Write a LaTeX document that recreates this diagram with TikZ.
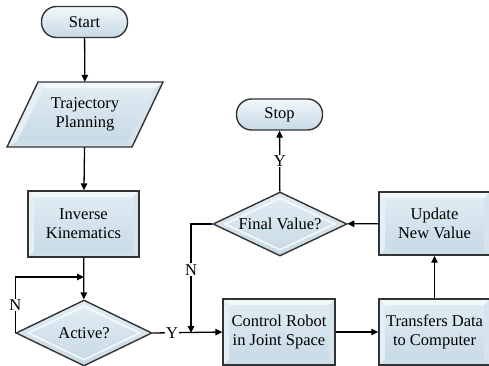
\documentclass[tikz,border=0pt]{standalone}
\usepackage{fontspec}
\setmainfont{Liberation Serif}
\usetikzlibrary{arrows.meta,shapes.geometric,calc}

\definecolor{edge}{HTML}{333333}
\definecolor{fillA}{HTML}{E2EDF4}
\definecolor{fillB}{HTML}{C6D9E6}
\definecolor{bvTop}{HTML}{F2F7FA}
\definecolor{bvLeft}{HTML}{E6EFF5}
\definecolor{bvRight}{HTML}{D6E4EE}
\definecolor{bvBottom}{HTML}{CEDFEA}

\tikzset{
  chartfont/.style={font=\fontsize{16.5}{19}\selectfont},
  % rectangular process box with a bevelled frame
  bevelbox/.style={rectangle, draw=edge, line width=1.4pt, chartfont,
    align=center, top color=fillA, bottom color=fillB, inner sep=0pt,
    path picture={
      \path (path picture bounding box.south west) coordinate (bvA)
            (path picture bounding box.north east) coordinate (bvB);
      \fill[bvTop] (bvA |- bvB) -- (bvB) -- ($(bvB)+(-6pt,-6pt)$) -- ($(bvA |- bvB)+(6pt,-6pt)$) -- cycle;
      \fill[bvRight] (bvB) -- (bvB |- bvA) -- ($(bvB |- bvA)+(-6pt,6pt)$) -- ($(bvB)+(-6pt,-6pt)$) -- cycle;
      \fill[bvBottom] (bvB |- bvA) -- (bvA) -- ($(bvA)+(6pt,6pt)$) -- ($(bvB |- bvA)+(-6pt,6pt)$) -- cycle;
      \fill[bvLeft] (bvA) -- (bvA |- bvB) -- ($(bvA |- bvB)+(6pt,-6pt)$) -- ($(bvA)+(6pt,6pt)$) -- cycle;
    }},
  % start / stop terminator
  terminal/.style={rectangle, rounded corners=15pt, draw=edge, line width=1.4pt,
    chartfont, top color=bvTop, bottom color=fillB, inner sep=0pt,
    minimum width=86pt, minimum height=31pt},
  % decision diamond
  decision/.style={diamond, draw=edge, line width=1.4pt, chartfont,
    top color=fillA, bottom color=fillB, inner sep=0pt, aspect=2,
    path picture={
      \path (path picture bounding box.south west) coordinate (dgA)
            (path picture bounding box.north east) coordinate (dgB);
      \draw[white, line width=1.6pt, opacity=0.8]
        ($(dgA |- dgB)!0.5!(dgB)+(0,-6pt)$) -- ($(dgB)!0.5!(dgB |- dgA)+(-12pt,0)$)
        -- ($(dgA)!0.5!(dgB |- dgA)+(0,6pt)$) -- ($(dgA)!0.5!(dgA |- dgB)+(12pt,0)$) -- cycle;
    }},
  conn/.style={draw=black, line width=1.3pt, -{Triangle[length=7pt,width=6.5pt]}},
  lbl/.style={fill=white, inner sep=1pt, chartfont}
}

\begin{document}
\begin{tikzpicture}[x=1pt, y=-1pt]
  \useasboundingbox (0,0) rectangle (489,365);
  \clip (0,0) rectangle (489,365);

  % ---- left column ----
  \node[terminal] (start) at (84.5,22) {Start};

  % parallelogram for the planning step
  \begin{scope}
    \path[top color=fillA, bottom color=fillB] (38,82) -- (163,82) -- (132,147) -- (7,147) -- cycle;
    \fill[bvTop] (38,82) -- (163,82) -- (155,88) -- (44,88) -- cycle;
    \fill[bvRight] (163,82) -- (132,147) -- (128,141) -- (155,88) -- cycle;
    \fill[bvBottom] (132,147) -- (7,147) -- (17,141) -- (128,141) -- cycle;
    \fill[bvLeft] (7,147) -- (38,82) -- (44,88) -- (17,141) -- cycle;
    \draw[edge, line width=1.4pt, line join=miter] (38,82) -- (163,82) -- (132,147) -- (7,147) -- cycle;
  \end{scope}
  \node[chartfont, align=center, minimum width=124pt, minimum height=65pt, inner sep=0pt]
    (traj) at (85,114.5) {Trajectory\\Planning};

  \node[bevelbox, minimum width=111pt, minimum height=66pt] (inv) at (83.5,224) {Inverse\\Kinematics};
  \node[decision, minimum width=136pt, minimum height=66pt] (active) at (84,333) {Active?};

  % ---- right part ----
  \node[bevelbox, minimum width=112pt, minimum height=66pt] (ctrl) at (279,332) {Control Robot\\in Joint Space};
  \node[bevelbox, minimum width=111pt, minimum height=66pt] (trans) at (434.5,332) {Transfers Data\\to Computer};
  \node[bevelbox, minimum width=111pt, minimum height=63pt] (update) at (434.5,223.5) {Update\\New Value};
  \node[decision, minimum width=134pt, minimum height=64pt] (final) at (280,224) {Final Value?};
  \node[terminal] (stop) at (279.5,114.5) {Stop};

  % helper points
  \coordinate (loopin) at (84,277);
  \coordinate (jn) at (191,333);

  % ---- connectors ----
  \draw[conn] (start) -- (traj);
  \draw[conn] (traj) -- (inv);
  \draw[conn] (inv) -- (active);
  \draw[conn] (active.west) |- (loopin) node[lbl, pos=0.25] {N};
  \draw[conn] (active.east) -- (ctrl.west) node[lbl, pos=0.28] {Y};
  \draw[conn] (final.west) -| (jn) node[lbl, pos=0.71] {N};
  \draw[conn] (ctrl) -- (trans);
  \draw[conn] (trans) -- (update);
  \draw[conn] (update) -- (final);
  \draw[conn] (final) -- (stop) node[lbl, pos=0.5] {Y};
\end{tikzpicture}
\end{document}
